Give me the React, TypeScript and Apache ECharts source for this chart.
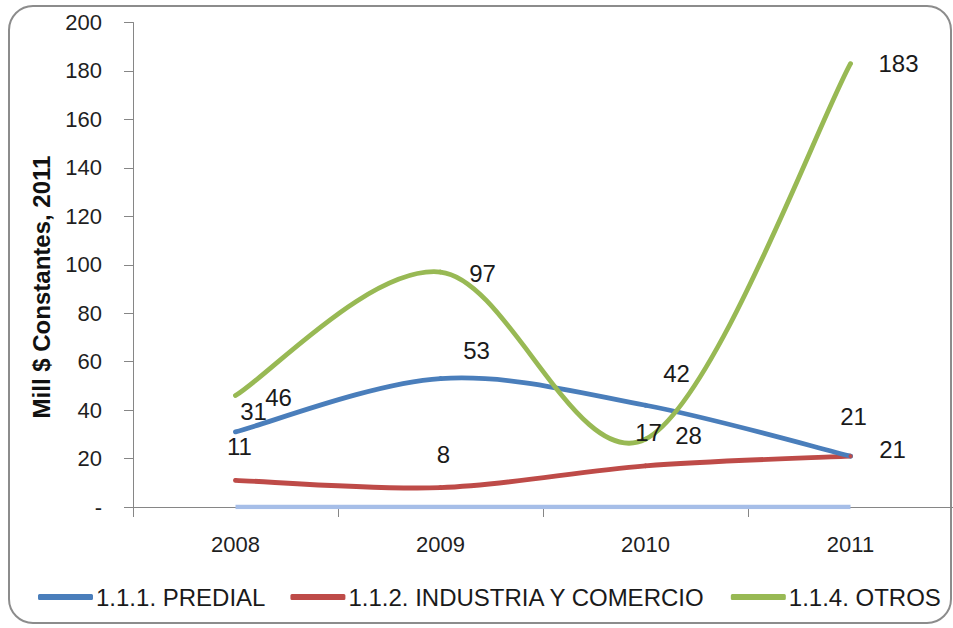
import React, { useEffect, useRef } from "react";
import * as echarts from "echarts";

const years = ["2008", "2009", "2010", "2011"];
const predial = [31, 53, 42, 21];
const industria = [11, 8, 17, 21];
const cero = [0, 0, 0, 0];
const otros = [46, 97, 28, 183];

const FONT = "'Liberation Sans', Arial, sans-serif";
const NAMES = ["1.1.1. PREDIAL", "1.1.2. INDUSTRIA Y COMERCIO", "1.1.4. OTROS"];
const COLORS = ["#4a7ebb", "#be4b48", "#98b954"];

// label placements (style only)
const predialLabelOffsets = [[18, -20], [36, -28], [31, -32], [3, -40]];
const industriaLabelOffsets = [[4, -34], [3, -33], [3, -33], [42, -7]];
const otrosLabelOffsets = [[43, 2], [42, 1], [43, -4], [48, 0]];

function withLabels(values: number[], offsets: number[][]) {
  return values.map((v, i) => ({
    value: v,
    label: { show: true, position: "inside", offset: offsets[i] },
  }));
}

// Excel-like (Catmull-Rom) smoothed curve drawn through the axis scales
function curveSeries(name: string, color: string, values: number[], z: number) {
  return {
    name,
    type: "custom",
    z,
    silent: true,
    data: values.map((v, i) => [i, v]),
    encode: { x: 0, y: 1 },
    renderItem: (params: any, api: any) => {
      const i = params.dataIndex;
      const n = values.length;
      if (i >= n - 1) return { type: "group", children: [] };
      const pts = values.map((v, k) => api.coord([k, v]));
      const p0 = pts[Math.max(i - 1, 0)];
      const p1 = pts[i];
      const p2 = pts[i + 1];
      const p3 = pts[Math.min(i + 2, n - 1)];
      const t = 1 / 6;
      return {
        type: "bezierCurve",
        shape: {
          x1: p1[0],
          y1: p1[1],
          cpx1: p1[0] + (p2[0] - p0[0]) * t,
          cpy1: p1[1] + (p2[1] - p0[1]) * t,
          cpx2: p2[0] - (p3[0] - p1[0]) * t,
          cpy2: p2[1] - (p3[1] - p1[1]) * t,
          x2: p2[0],
          y2: p2[1],
        },
        style: { stroke: color, lineWidth: 4.8, fill: "none", lineCap: "round" },
      };
    },
  };
}

export default function App() {
  const ref = useRef<HTMLDivElement>(null);
  useEffect(() => {
    if (!ref.current) return;
    const chart = echarts.init(ref.current, null, { renderer: "svg" });
    const labelStyle = {
      show: true,
      color: "#1a1a1a",
      fontSize: 24,
      fontFamily: FONT,
    };
    const mkPoints = (name: string, color: string, data: any, z: number) => ({
      name,
      type: "line",
      symbol: "circle",
      symbolSize: 4,
      showSymbol: true,
      z,
      itemStyle: { color },
      lineStyle: { color, width: 0, opacity: 0 },
      label: labelStyle,
      emphasis: { disabled: true },
      data,
    });
    chart.setOption({
      animation: false,
      backgroundColor: "#ffffff",
      textStyle: { fontFamily: FONT },
      graphic: [
        {
          type: "rect",
          shape: { x: 9, y: 6, width: 942, height: 617, r: 24 },
          style: { fill: "none", stroke: "#8c8c8c", lineWidth: 2 },
          z: -1,
        },
        {
          type: "text",
          x: 41,
          y: 287,
          rotation: Math.PI / 2,
          style: {
            text: "Mill $ Constantes, 2011",
            fontSize: 24,
            fontWeight: "bold",
            fontFamily: FONT,
            fill: "#111",
            align: "center",
            verticalAlign: "middle",
          },
        },
      ],
      grid: { left: 133, top: 22.5, width: 824, height: 484.5, containLabel: false },
      legend: {
        left: 33,
        top: 580,
        itemWidth: 55,
        itemHeight: 6,
        itemGap: 25,
        icon: "roundRect",
        textStyle: { fontSize: 24, color: "#1a1a1a", fontFamily: FONT, padding: [0, 0, 0, -2] },
        data: NAMES.map((n, i) => ({ name: n, itemStyle: { color: COLORS[i] } })),
      },
      xAxis: {
        type: "category",
        data: years,
        boundaryGap: true,
        axisLine: { lineStyle: { color: "#868686", width: 1 } },
        axisTick: { show: true, length: 10, lineStyle: { color: "#868686" } },
        axisLabel: { fontSize: 22, color: "#1f1f1f", margin: 26, fontFamily: FONT },
      },
      yAxis: {
        type: "value",
        min: 0,
        max: 200,
        interval: 20,
        axisLine: { show: true, lineStyle: { color: "#868686", width: 1 } },
        axisTick: { show: true, length: 9, lineStyle: { color: "#868686" } },
        splitLine: { show: false },
        axisLabel: {
          fontSize: 22,
          color: "#1f1f1f",
          margin: 31,
          fontFamily: FONT,
          formatter: (v: number) => (v === 0 ? "-" : String(v)),
        },
      },
      series: [
        mkPoints(NAMES[0], COLORS[0], withLabels(predial, predialLabelOffsets), 10),
        mkPoints(NAMES[1], COLORS[1], withLabels(industria, industriaLabelOffsets), 10),
        mkPoints(NAMES[2], COLORS[2], withLabels(otros, otrosLabelOffsets), 10),
        {
          name: "1.1.3.",
          type: "line",
          symbol: "none",
          z: 1,
          lineStyle: { color: "#a6bee8", width: 4.5 },
          itemStyle: { color: "#a6bee8" },
          emphasis: { disabled: true },
          data: cero,
        },
        curveSeries(NAMES[0], COLORS[0], predial, 3),
        curveSeries(NAMES[1], COLORS[1], industria, 2),
        curveSeries(NAMES[2], COLORS[2], otros, 4),
      ],
    });
    return () => chart.dispose();
  }, []);
  return (
    <div
      ref={ref}
      style={{ position: "absolute", left: 0, top: 0, width: 953, height: 628, background: "#fff" }}
    />
  );
}
